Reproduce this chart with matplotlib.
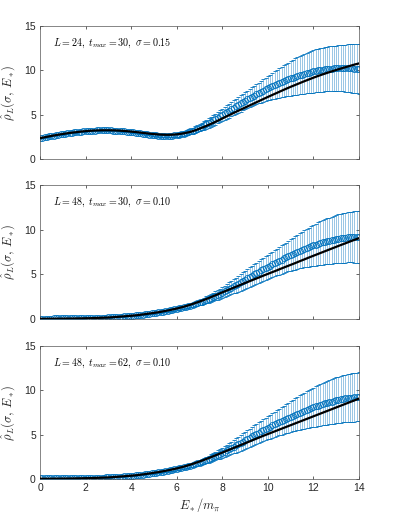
import numpy as np
import matplotlib
matplotlib.use("Agg")
import matplotlib.pyplot as plt

plt.rcParams['mathtext.fontset'] = 'cm'
plt.rcParams['font.family'] = ['Liberation Sans', 'DejaVu Sans']

# Energy grids E_*/m_pi : reconstruction points (0.1) and exact curve (0.2)
E_pts = np.round(np.arange(0, 14.001, 0.1), 1)
E_line = np.round(np.arange(0, 14.001, 0.2), 1)

labels = [r"$L=24,\ t_{max}=30,\ \sigma=0.15$",
          r"$L=48,\ t_{max}=30,\ \sigma=0.10$",
          r"$L=48,\ t_{max}=62,\ \sigma=0.10$"]

# ---------------- Panel 1 ----------------
exact1 = [2.35, 2.45, 2.55, 2.65, 2.74, 2.82, 2.9, 2.97, 3.03, 3.09,
          3.14, 3.18, 3.21, 3.23, 3.24, 3.24, 3.23, 3.21, 3.18, 3.14,
          3.09, 3.04, 2.98, 2.92, 2.86, 2.81, 2.77, 2.74, 2.73, 2.74,
          2.78, 2.85, 2.94, 3.06, 3.22, 3.42, 3.62, 3.84, 4.07, 4.32,
          4.57, 4.82, 5.07, 5.32, 5.56, 5.8, 6.04, 6.28, 6.52, 6.76,
          7.0, 7.23, 7.46, 7.69, 7.92, 8.14, 8.35, 8.56, 8.77, 8.97,
          9.17, 9.36, 9.54, 9.71, 9.88, 10.04, 10.2, 10.35, 10.5, 10.65,
          10.78]
rec1 = [2.35, 2.40, 2.44, 2.49, 2.54, 2.59, 2.64, 2.69, 2.73, 2.77,
        2.81, 2.85, 2.89, 2.93, 2.96, 3.00, 3.03, 3.06, 3.09, 3.12,
        3.14, 3.16, 3.18, 3.20, 3.21, 3.22, 3.23, 3.24, 3.24, 3.24,
        3.23, 3.22, 3.21, 3.20, 3.18, 3.16, 3.14, 3.12, 3.09, 3.06,
        3.03, 3.00, 2.96, 2.93, 2.89, 2.86, 2.82, 2.79, 2.75, 2.72,
        2.69, 2.66, 2.64, 2.62, 2.61, 2.60, 2.60, 2.61, 2.63, 2.66,
        2.70, 2.75, 2.80, 2.87, 2.94, 3.02, 3.11, 3.21, 3.31, 3.42,
        3.54, 3.66, 3.79, 3.92, 4.06, 4.20, 4.35, 4.50, 4.66, 4.82,
        4.98, 5.14, 5.30, 5.46, 5.62, 5.78, 5.94, 6.10, 6.26, 6.41,
        6.57, 6.72, 6.87, 7.02, 7.16, 7.30, 7.44, 7.58, 7.71, 7.84,
        7.97, 8.10, 8.22, 8.34, 8.46, 8.57, 8.68, 8.79, 8.89, 8.99,
        9.09, 9.18, 9.28, 9.36, 9.45, 9.53, 9.61, 9.68, 9.75, 9.82,
        9.88, 9.94, 9.99, 10.04, 10.08, 10.12, 10.15, 10.18, 10.20, 10.22,
        10.23, 10.24, 10.25, 10.25, 10.25, 10.24, 10.23, 10.22, 10.20, 10.18,
        10.16]
err1 = [0.05] * 40 + [
        0.06, 0.06, 0.06, 0.065, 0.07, 0.075, 0.08, 0.085, 0.09, 0.095,
        0.10, 0.105, 0.11, 0.12, 0.13, 0.14, 0.15, 0.16, 0.17, 0.185,
        0.20, 0.215, 0.23, 0.25, 0.27, 0.29, 0.31, 0.335, 0.36, 0.385,
        0.41, 0.44, 0.47, 0.50, 0.53, 0.56, 0.59, 0.62, 0.65, 0.68,
        0.71, 0.735, 0.76, 0.785, 0.81, 0.835, 0.86, 0.885, 0.91, 0.935,
        0.96, 0.99, 1.02, 1.055, 1.09, 1.13, 1.17, 1.215, 1.26, 1.31,
        1.36, 1.415, 1.47, 1.53, 1.59, 1.65, 1.71, 1.77, 1.83, 1.89,
        1.95, 2.005, 2.06, 2.11, 2.16, 2.205, 2.25, 2.29, 2.33, 2.36,
        2.39, 2.415, 2.44, 2.46, 2.48, 2.495, 2.51, 2.525, 2.54, 2.555,
        2.57, 2.59, 2.61, 2.63, 2.65, 2.675, 2.70, 2.725, 2.75, 2.775,
        2.80]

# ---------------- Panel 2 ----------------
exact2 = [0.02, 0.02, 0.03, 0.03, 0.04, 0.04, 0.05, 0.05, 0.06, 0.07,
          0.08, 0.09, 0.11, 0.13, 0.15, 0.17, 0.2, 0.24, 0.28, 0.32,
          0.36, 0.41, 0.47, 0.54, 0.61, 0.68, 0.76, 0.85, 0.95, 1.06,
          1.17, 1.3, 1.44, 1.6, 1.77, 1.95, 2.14, 2.34, 2.55, 2.76,
          2.98, 3.19, 3.4, 3.61, 3.82, 4.03, 4.23, 4.44, 4.64, 4.85,
          5.05, 5.25, 5.45, 5.66, 5.86, 6.06, 6.26, 6.47, 6.67, 6.88,
          7.08, 7.28, 7.48, 7.68, 7.88, 8.08, 8.28, 8.47, 8.67, 8.86,
          9.05]
rec2 = [0.05, 0.05, 0.05, 0.05, 0.05, 0.055, 0.06, 0.06, 0.06, 0.06,
        0.06, 0.06, 0.06, 0.065, 0.07, 0.07, 0.07, 0.075, 0.08, 0.085,
        0.09, 0.095, 0.10, 0.105, 0.11, 0.12, 0.13, 0.14, 0.15, 0.16,
        0.17, 0.185, 0.20, 0.215, 0.23, 0.25, 0.27, 0.29, 0.31, 0.33,
        0.35, 0.375, 0.40, 0.43, 0.46, 0.49, 0.52, 0.555, 0.59, 0.625,
        0.66, 0.70, 0.74, 0.785, 0.83, 0.875, 0.92, 0.97, 1.02, 1.07,
        1.12, 1.18, 1.24, 1.305, 1.37, 1.44, 1.51, 1.59, 1.67, 1.76,
        1.85, 1.945, 2.04, 2.14, 2.24, 2.35, 2.46, 2.58, 2.70, 2.825,
        2.95, 3.09, 3.23, 3.37, 3.51, 3.655, 3.80, 3.95, 4.10, 4.25,
        4.40, 4.55, 4.70, 4.845, 4.99, 5.14, 5.29, 5.43, 5.57, 5.71,
        5.85, 5.985, 6.12, 6.255, 6.39, 6.52, 6.65, 6.775, 6.90, 7.025,
        7.15, 7.27, 7.39, 7.505, 7.62, 7.73, 7.84, 7.945, 8.05, 8.15,
        8.25, 8.335, 8.42, 8.495, 8.57, 8.635, 8.70, 8.765, 8.83, 8.89,
        8.95, 8.995, 9.04, 9.075, 9.11, 9.135, 9.16, 9.175, 9.19, 9.195,
        9.20]
err2 = [0.03] * 40 + [
        0.03, 0.035, 0.04, 0.04, 0.04, 0.045, 0.05, 0.055, 0.06, 0.065,
        0.07, 0.075, 0.08, 0.085, 0.09, 0.10, 0.11, 0.115, 0.12, 0.13,
        0.14, 0.15, 0.16, 0.175, 0.19, 0.205, 0.22, 0.24, 0.26, 0.28,
        0.30, 0.325, 0.35, 0.38, 0.41, 0.44, 0.47, 0.50, 0.53, 0.565,
        0.60, 0.64, 0.68, 0.72, 0.76, 0.80, 0.84, 0.88, 0.92, 0.96,
        1.00, 1.035, 1.07, 1.105, 1.14, 1.175, 1.21, 1.245, 1.28, 1.315,
        1.35, 1.385, 1.42, 1.46, 1.50, 1.54, 1.58, 1.62, 1.66, 1.705,
        1.75, 1.80, 1.85, 1.905, 1.96, 2.015, 2.07, 2.13, 2.19, 2.245,
        2.30, 2.35, 2.40, 2.44, 2.48, 2.52, 2.56, 2.595, 2.63, 2.665,
        2.70, 2.725, 2.75, 2.77, 2.79, 2.81, 2.83, 2.85, 2.87, 2.885,
        2.90]

# ---------------- Panel 3 ----------------
exact3 = [0.03, 0.03, 0.03, 0.04, 0.04, 0.05, 0.05, 0.06, 0.07, 0.08,
          0.09, 0.1, 0.12, 0.14, 0.16, 0.18, 0.21, 0.25, 0.29, 0.33,
          0.37, 0.42, 0.48, 0.55, 0.62, 0.7, 0.78, 0.87, 0.97, 1.08,
          1.19, 1.32, 1.46, 1.62, 1.79, 1.97, 2.16, 2.36, 2.56, 2.77,
          2.98, 3.19, 3.4, 3.61, 3.82, 4.03, 4.24, 4.45, 4.66, 4.87,
          5.07, 5.27, 5.47, 5.67, 5.87, 6.07, 6.27, 6.47, 6.67, 6.87,
          7.07, 7.27, 7.47, 7.67, 7.87, 8.07, 8.27, 8.47, 8.67, 8.87,
          9.07]
rec3 = [0.06, 0.06, 0.06, 0.06, 0.06, 0.06, 0.06, 0.065, 0.07, 0.07,
        0.07, 0.07, 0.07, 0.075, 0.08, 0.08, 0.08, 0.085, 0.09, 0.095,
        0.10, 0.105, 0.11, 0.115, 0.12, 0.13, 0.14, 0.15, 0.16, 0.17,
        0.18, 0.195, 0.21, 0.225, 0.24, 0.26, 0.28, 0.30, 0.32, 0.34,
        0.36, 0.385, 0.41, 0.44, 0.47, 0.50, 0.53, 0.565, 0.60, 0.635,
        0.67, 0.71, 0.75, 0.795, 0.84, 0.885, 0.93, 0.98, 1.03, 1.08,
        1.13, 1.19, 1.25, 1.315, 1.38, 1.45, 1.52, 1.60, 1.68, 1.77,
        1.86, 1.955, 2.05, 2.15, 2.25, 2.36, 2.47, 2.59, 2.71, 2.835,
        2.96, 3.095, 3.23, 3.365, 3.50, 3.64, 3.78, 3.925, 4.07, 4.215,
        4.36, 4.505, 4.65, 4.795, 4.94, 5.08, 5.22, 5.36, 5.50, 5.635,
        5.77, 5.905, 6.04, 6.17, 6.30, 6.425, 6.55, 6.675, 6.80, 6.92,
        7.04, 7.155, 7.27, 7.38, 7.49, 7.595, 7.70, 7.80, 7.90, 7.995,
        8.09, 8.18, 8.27, 8.355, 8.44, 8.52, 8.60, 8.67, 8.74, 8.805,
        8.87, 8.925, 8.98, 9.03, 9.08, 9.12, 9.16, 9.19, 9.22, 9.24,
        9.26]
err3 = [0.03] * 40 + [
        0.03, 0.035, 0.04, 0.04, 0.04, 0.045, 0.05, 0.055, 0.06, 0.065,
        0.07, 0.075, 0.08, 0.085, 0.09, 0.095, 0.10, 0.11, 0.12, 0.13,
        0.14, 0.15, 0.16, 0.17, 0.18, 0.195, 0.21, 0.23, 0.25, 0.27,
        0.29, 0.315, 0.34, 0.365, 0.39, 0.42, 0.45, 0.48, 0.51, 0.545,
        0.58, 0.615, 0.65, 0.685, 0.72, 0.76, 0.80, 0.84, 0.88, 0.92,
        0.96, 0.995, 1.03, 1.065, 1.10, 1.135, 1.17, 1.205, 1.24, 1.275,
        1.31, 1.35, 1.39, 1.43, 1.47, 1.51, 1.55, 1.595, 1.64, 1.685,
        1.73, 1.78, 1.83, 1.88, 1.93, 1.98, 2.03, 2.08, 2.13, 2.175,
        2.22, 2.265, 2.31, 2.35, 2.39, 2.425, 2.46, 2.49, 2.52, 2.55,
        2.58, 2.605, 2.63, 2.65, 2.67, 2.69, 2.71, 2.725, 2.74, 2.75,
        2.76]

exacts = [exact1, exact2, exact3]
recs = [rec1, rec2, rec3]
errs = [err1, err2, err3]

xticks = [0, 2, 4, 6, 8, 10, 12, 14]
yticks = [0, 5, 10, 15]

blue = '#0072BD'
axcol = '#262626'

W, H = 399, 532
fig = plt.figure(figsize=(W / 100, H / 100), dpi=100)

# pixel boxes: (top, bottom)
boxes = [(26, 159), (185, 319), (346, 479)]
left_px, right_px = 40, 359

for i, (top, bot) in enumerate(boxes):
    ax = fig.add_axes([left_px / W, (H - bot) / H,
                       (right_px - left_px) / W, (bot - top) / H])
    eb = ax.errorbar(E_pts, recs[i], yerr=errs[i], fmt='o', color=blue,
                     mfc='none', mec=blue, ms=4.3, mew=0.6,
                     elinewidth=0.4, capsize=1.6, capthick=0.7, zorder=2)
    for coll in eb[2]:
        coll.set_alpha(0.7)
    ax.plot(E_line, exacts[i], color='black', lw=1.6, zorder=3)
    ax.set_xlim(0, 14)
    ax.set_ylim(0, 15)
    ax.set_xticks(xticks)
    ax.set_yticks(yticks)
    ax.tick_params(direction='in', length=2.5, width=0.5,
                   top=True, right=True, labelsize=7.5,
                   colors=axcol, pad=3)
    for s in ax.spines.values():
        s.set_linewidth(0.5)
        s.set_color('#555555')
    if i < 2:
        ax.set_xticklabels([])
    else:
        ax.set_xlabel(r"$E_*/m_\pi$", fontsize=9, color=axcol, labelpad=2)
    ax.set_ylabel(r"$\hat{\rho}_L(\sigma,\,E_*)$", fontsize=9,
                  color=axcol, labelpad=5)
    ax.text(0.04, 0.87, labels[i], transform=ax.transAxes,
            fontsize=7.2, va='center', ha='left', color='black')

fig.savefig('out.png', dpi=100)
